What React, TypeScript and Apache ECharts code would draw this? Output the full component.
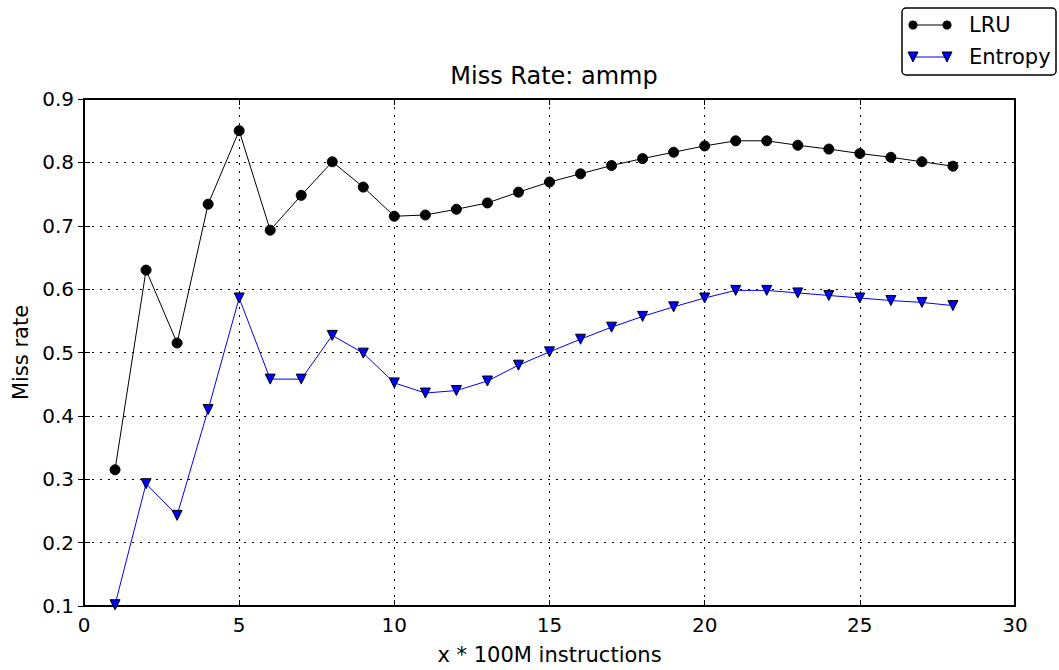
import React, { useEffect, useRef } from "react";
import * as echarts from "echarts";

const xValues = [1,2,3,4,5,6,7,8,9,10,11,12,13,14,15,16,17,18,19,20,21,22,23,24,25,26,27,28];
const lruValues = [0.315,0.630,0.515,0.734,0.850,0.693,0.748,0.801,0.761,0.715,0.717,0.726,0.736,0.753,0.769,0.782,0.795,0.806,0.816,0.826,0.834,0.834,0.827,0.821,0.814,0.808,0.801,0.794];
const entropyValues = [0.102,0.293,0.243,0.410,0.586,0.458,0.458,0.527,0.499,0.452,0.436,0.440,0.455,0.480,0.501,0.521,0.540,0.557,0.572,0.586,0.598,0.598,0.594,0.590,0.586,0.582,0.579,0.574];
const seriesNames = ["LRU", "Entropy"];
const titleText = "Miss Rate: ammp";
const xAxisName = "x * 100M instructions";
const yAxisName = "Miss rate";

const FONT = "DejaVu Sans";

export default function App() {
  const ref = useRef<HTMLDivElement>(null);
  useEffect(() => {
    if (!ref.current) return;
    const chart = echarts.init(ref.current, null, { renderer: "svg" });
    const lru = xValues.map((x, i) => [x, lruValues[i]]);
    const ent = xValues.map((x, i) => [x, entropyValues[i]]);
    const tri = (cx: number, cy: number) => ({
      type: "polygon",
      shape: { points: [[cx - 5, cy - 5], [cx + 5, cy - 5], [cx, cy + 5]] },
      style: { fill: "#0000ff", stroke: "#000", lineWidth: 1 },
    });
    chart.setOption({
      animation: false,
      backgroundColor: "#fff",
      title: {
        text: titleText,
        left: 549,
        top: 59,
        textAlign: "center",
        textStyle: { fontFamily: FONT, fontSize: 24, fontWeight: "normal", color: "#000" },
      },
      grid: { left: 84, right: 44, top: 99, bottom: 64, show: true, borderColor: "#000", borderWidth: 2, backgroundColor: "transparent" },
      xAxis: [
        {
          type: "value", min: 0, max: 30, interval: 5,
          name: xAxisName, nameLocation: "middle", nameGap: 38,
          nameTextStyle: { fontFamily: FONT, fontSize: 21, color: "#000" },
          axisLine: { show: true, lineStyle: { color: "#000", width: 2 } },
          axisTick: { show: true, inside: true, length: 6, lineStyle: { color: "#000" } },
          axisLabel: { fontFamily: FONT, fontSize: 20, color: "#000", margin: 9 },
          splitLine: { show: true, lineStyle: { color: "#000", type: [2, 6], width: 1 } },
        },
        {
          type: "value", min: 0, max: 30, interval: 5, position: "top",
          axisLine: { show: true, lineStyle: { color: "#000", width: 2 } },
          axisTick: { show: true, inside: true, length: 6, lineStyle: { color: "#000" } },
          axisLabel: { show: false },
          splitLine: { show: false },
        },
      ],
      yAxis: [
        {
          type: "value", min: 0.1, max: 0.9, interval: 0.1,
          name: yAxisName, nameLocation: "middle", nameGap: 52, nameRotate: 90,
          nameTextStyle: { fontFamily: FONT, fontSize: 21, color: "#000" },
          axisLine: { show: true, lineStyle: { color: "#000", width: 2 } },
          axisTick: { show: true, inside: true, length: 6, lineStyle: { color: "#000" } },
          axisLabel: { fontFamily: FONT, fontSize: 20, color: "#000", margin: 10, formatter: (v: number) => v.toFixed(1) },
          splitLine: { show: true, lineStyle: { color: "#000", type: [2, 6], width: 1 } },
        },
        {
          type: "value", min: 0.1, max: 0.9, interval: 0.1, position: "right",
          axisLine: { show: true, lineStyle: { color: "#000", width: 2 } },
          axisTick: { show: true, inside: true, length: 6, lineStyle: { color: "#000" } },
          axisLabel: { show: false },
          splitLine: { show: false },
        },
      ],
      series: [
        {
          name: seriesNames[0], type: "line", data: lru,
          symbol: "circle", symbolSize: 10,
          lineStyle: { color: "#000", width: 1 },
          itemStyle: { color: "#000", borderColor: "#000" },
          z: 3,
        },
        {
          name: seriesNames[1], type: "line", data: ent,
          symbol: "triangle", symbolSize: 10, symbolRotate: 180,
          lineStyle: { color: "#0000ff", width: 1 },
          itemStyle: { color: "#0000ff", borderColor: "#000", borderWidth: 1 },
          z: 4,
        },
      ],
      graphic: [
        {
          type: "rect",
          shape: { x: 902, y: 8, width: 154, height: 67, r: 4 },
          style: { fill: "#fff", stroke: "#000", lineWidth: 1.5 },
          z: 100,
        },
        { type: "line", shape: { x1: 913, y1: 25, x2: 947, y2: 25 }, style: { stroke: "#000", lineWidth: 1 }, z: 101 },
        { type: "circle", shape: { cx: 913, cy: 25, r: 4.5 }, style: { fill: "#000" }, z: 102 },
        { type: "circle", shape: { cx: 947, cy: 25, r: 4.5 }, style: { fill: "#000" }, z: 102 },
        { type: "line", shape: { x1: 913, y1: 57, x2: 947, y2: 57 }, style: { stroke: "#0000ff", lineWidth: 1 }, z: 101 },
        { ...tri(913, 57), z: 102 },
        { ...tri(947, 57), z: 102 },
        { type: "text", x: 969, y: 25, style: { text: seriesNames[0], fontFamily: FONT, fontSize: 21, fill: "#000", verticalAlign: "middle" }, z: 102 },
        { type: "text", x: 969, y: 57, style: { text: seriesNames[1], fontFamily: FONT, fontSize: 21, fill: "#000", verticalAlign: "middle" }, z: 102 },
      ],
    });
    return () => chart.dispose();
  }, []);
  return <div ref={ref} style={{ width: 1059, height: 670, position: "absolute", left: 0, top: 0 }} />;
}
